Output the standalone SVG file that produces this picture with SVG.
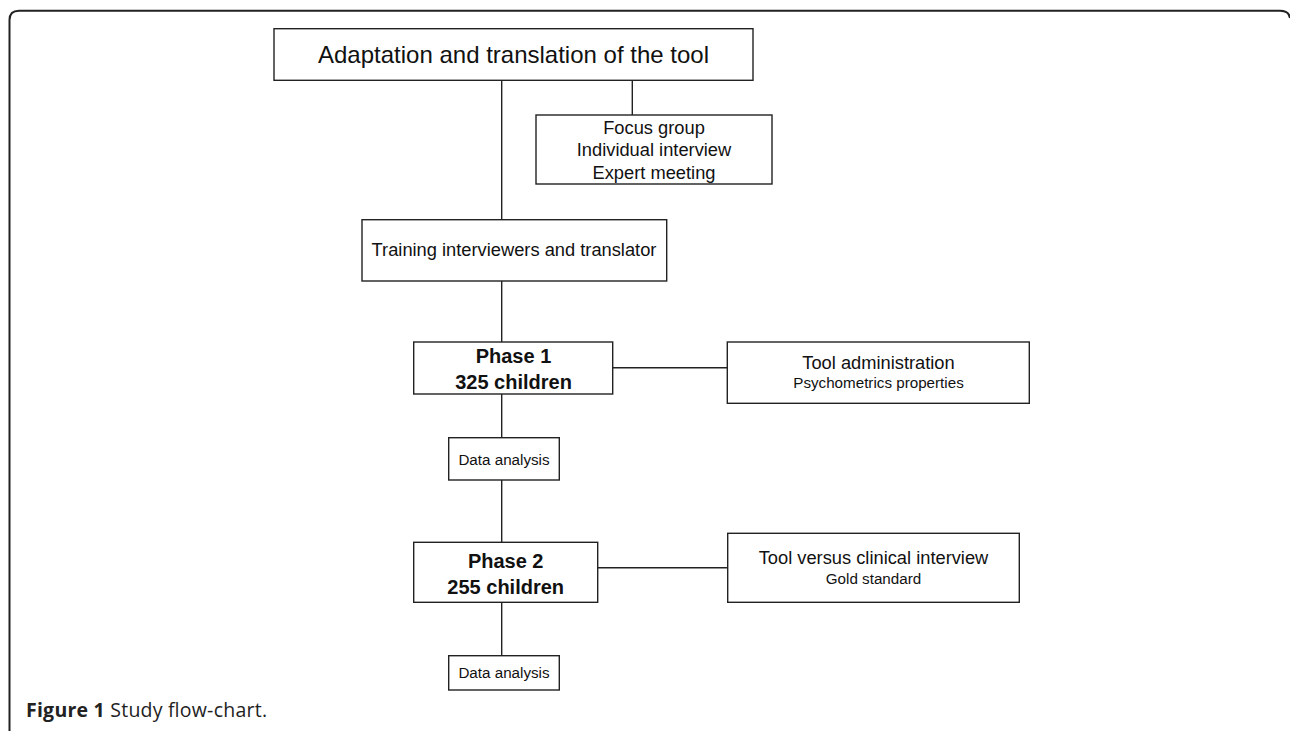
<svg xmlns="http://www.w3.org/2000/svg" width="1290" height="731" viewBox="0 0 1290 731">
<style>
.box{fill:#fff;stroke:#222;stroke-width:1.4}
.t{font-family:"Liberation Sans",Arial,sans-serif;fill:#111;text-anchor:middle}
.r{font-size:18.3px}
.s{font-size:15.2px}
.b{font-size:20px;font-weight:bold}
.conn line{stroke:#222;stroke-width:1.4}
.frame{fill:none;stroke:#222;stroke-width:2}
.cap{font-family:"Open Sans","Noto Sans",sans-serif;font-size:19.5px;fill:#222}
</style>
<rect width="1290" height="731" fill="#fff"/>
<path class="frame" d="M9.5,731 V20 Q9.5,10.7 19,10.7 H1280 Q1289,10.7 1290,18"/>
<g class="conn" id="connectors">
<line x1="501.7" y1="80.3" x2="501.7" y2="219.7"/>
<line x1="632.3" y1="80.3" x2="632.3" y2="115"/>
<line x1="501.7" y1="281" x2="501.7" y2="342"/>
<line x1="501.7" y1="394" x2="501.7" y2="437.7"/>
<line x1="501.7" y1="480" x2="501.7" y2="542.3"/>
<line x1="501.7" y1="602.3" x2="501.7" y2="655.7"/>
<line x1="612.7" y1="367.7" x2="727.3" y2="367.7"/>
<line x1="597.7" y1="567.7" x2="727.7" y2="567.7"/>
</g>
<g id="adaptation">
<rect class="box" x="274" y="28.7" width="479" height="51.6"/>
<text class="t" x="513.5" y="63.3" style="font-size:24px">Adaptation and translation of the tool</text>
</g>
<g id="focus">
<rect class="box" x="536" y="115" width="236" height="69"/>
<text class="t r" x="654" y="134">Focus group</text>
<text class="t r" x="654" y="156.3">Individual interview</text>
<text class="t r" x="654" y="178.8">Expert meeting</text>
</g>
<g id="training">
<rect class="box" x="362" y="219.7" width="304.7" height="61.3"/>
<text class="t r" x="514" y="256">Training interviewers and translator</text>
</g>
<g id="phase1">
<rect class="box" x="413.7" y="342" width="199" height="52"/>
<text class="t b" x="513.5" y="362.7">Phase 1</text>
<text class="t b" x="513.5" y="389">325 children</text>
</g>
<g id="tooladmin">
<rect class="box" x="727.3" y="342" width="302" height="61.3"/>
<text class="t r" x="878.5" y="369.3">Tool administration</text>
<text class="t s" x="878.5" y="388.3">Psychometrics properties</text>
</g>
<g id="data1">
<rect class="box" x="448.7" y="437.7" width="110.6" height="42.3"/>
<text class="t s" x="504" y="465">Data analysis</text>
</g>
<g id="phase2">
<rect class="box" x="413.7" y="542.3" width="184" height="60"/>
<text class="t b" x="505.7" y="568.3">Phase 2</text>
<text class="t b" x="505.7" y="594">255 children</text>
</g>
<g id="toolversus">
<rect class="box" x="727.7" y="533.3" width="291.6" height="69"/>
<text class="t r" x="873.5" y="564.3">Tool versus clinical interview</text>
<text class="t s" x="873.5" y="584.3">Gold standard</text>
</g>
<g id="data2">
<rect class="box" x="448.7" y="655.7" width="110.6" height="34.3"/>
<text class="t s" x="504" y="677.7">Data analysis</text>
</g>
<text class="cap" x="26" y="717.3" textLength="241" lengthAdjust="spacing"><tspan font-weight="bold">Figure 1</tspan> Study flow-chart.</text>
</svg>
